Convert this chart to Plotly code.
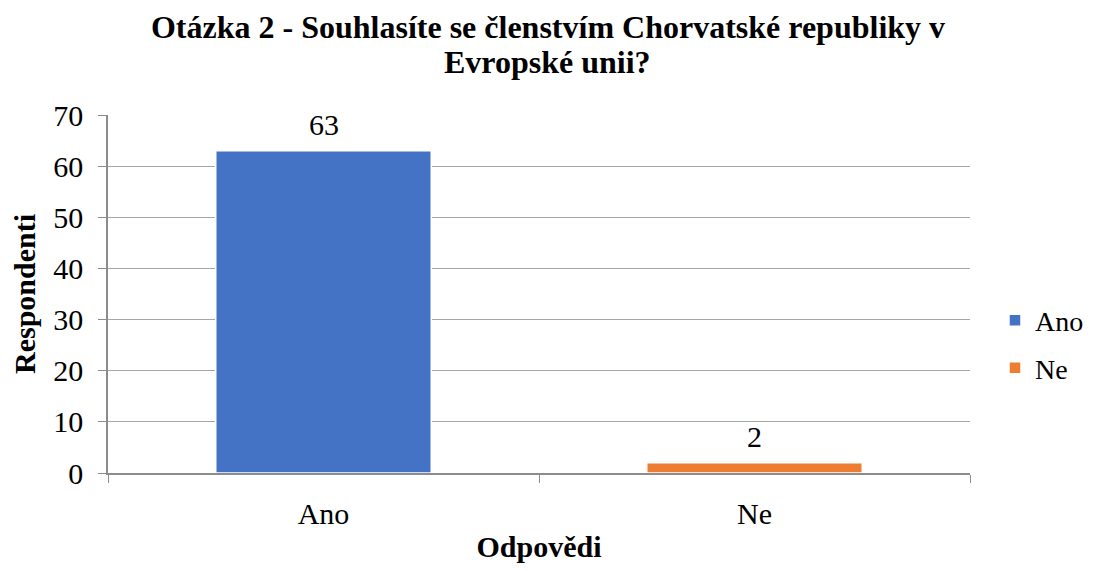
import plotly.graph_objects as go

categories = ["Ano", "Ne"]
values = [63, 2]
labels = ["63", "2"]
colors = ["#4472C4", "#ED7D31"]
y_ticks = [0, 10, 20, 30, 40, 50, 60, 70]
title_lines = ["Otázka 2 - Souhlasíte se členstvím Chorvatské republiky v", "Evropské unii?"]

FONT = "Liberation Serif, Times New Roman, serif"

fig = go.Figure()
for cat, val, col in zip(categories, values, colors):
    fig.add_trace(go.Bar(
        x=[cat], y=[val], name=cat, width=0.5,
        marker=dict(color=col, line=dict(color="white", width=1.5)),
        legendgroup=cat,
    ))

for cat, val, lab in zip(categories, values, labels):
    fig.add_annotation(x=cat, y=val, text=lab, showarrow=False,
                       yanchor="bottom", yshift=8,
                       font=dict(family=FONT, size=30, color="black"))

# second title line
fig.add_annotation(xref="paper", yref="paper", x=0.5104, y=1.148,
                   xanchor="center", yanchor="middle", showarrow=False,
                   text="<b>" + title_lines[1] + "</b>",
                   font=dict(family=FONT, size=32, color="black"))

fig.update_layout(
    width=1077, height=555,
    margin=dict(l=100, r=115, t=107, b=90, autoexpand=False),
    paper_bgcolor="white", plot_bgcolor="white",
    barmode="overlay",
    font=dict(family=FONT, size=30, color="black"),
    title=dict(
        text="<b>" + title_lines[0] + "</b>",
        x=0.5014, xanchor="center", y=0.966, yanchor="middle",
        font=dict(family=FONT, size=32, color="black"),
    ),
    xaxis=dict(
        title=dict(text="<b>Odpovědi</b>", font=dict(family=FONT, size=30), standoff=8),
        automargin=False,
        showline=True, linecolor="#8C8C8C", linewidth=1.5,
        ticks="outside", tickson="boundaries", ticklen=8, tickcolor="#8C8C8C",
        tickfont=dict(family=FONT, size=30),
        ticklabelstandoff=13,
        showgrid=False,
    ),
    yaxis=dict(
        title=dict(text="<b>Respondenti</b>", font=dict(family=FONT, size=30), standoff=9),
        automargin=False,
        range=[0, 70], tickvals=y_ticks,
        showline=True, linecolor="#8C8C8C", linewidth=1.5,
        ticks="outside", ticklen=8, tickcolor="#8C8C8C",
        ticklabelstandoff=9,
        showgrid=True, gridcolor="#A6A6A6", gridwidth=1,
        tickfont=dict(family=FONT, size=30),
        zeroline=False,
    ),
    legend=dict(
        x=1.029, xanchor="left", y=0.36, yanchor="middle",
        font=dict(family=FONT, size=28),
        traceorder="grouped", tracegroupgap=8,
        bgcolor="rgba(0,0,0,0)",
    ),
)

fig.write_html("out.html")
